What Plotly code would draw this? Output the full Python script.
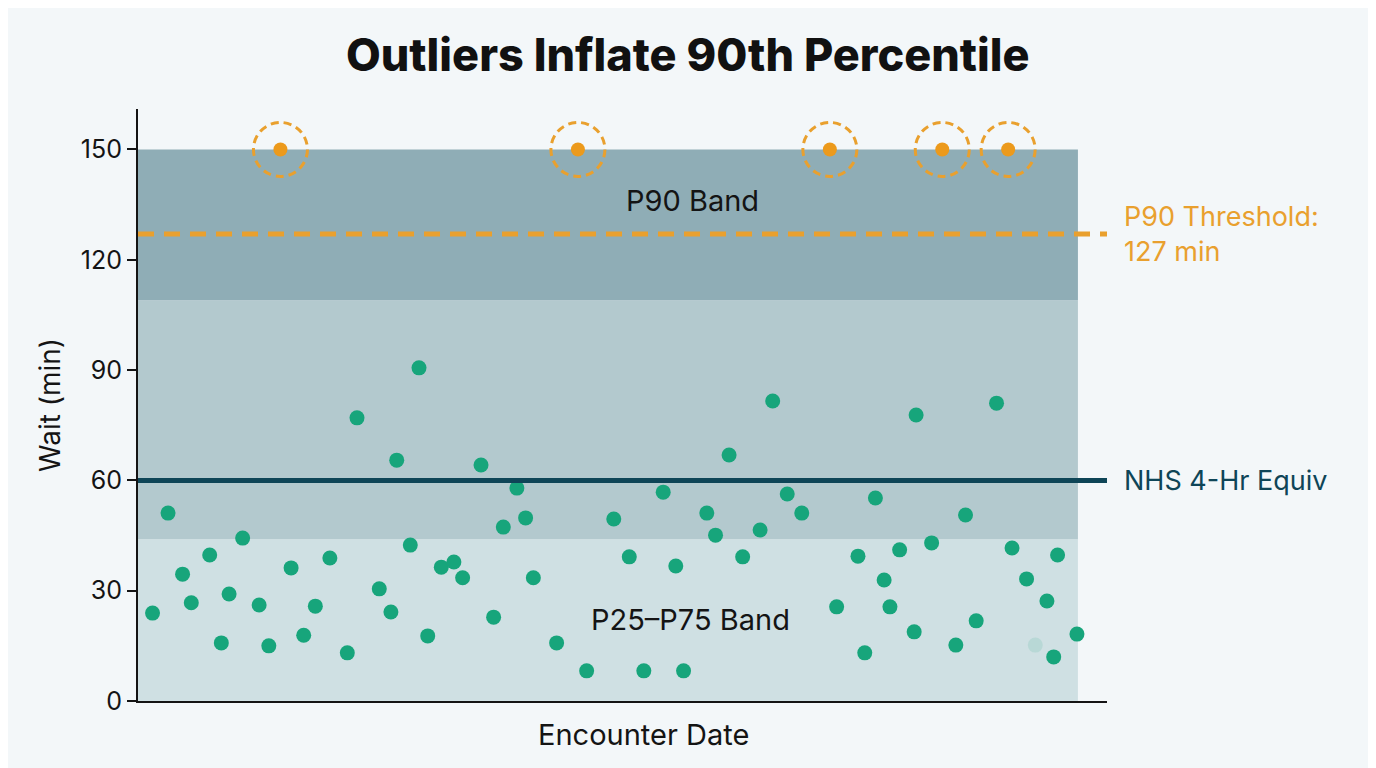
import plotly.graph_objects as go

# ---- data ----
day = [1.5, 3.1, 4.6, 5.5, 7.4, 8.6, 9.4, 10.8, 12.5, 13.5, 15.8, 17.1, 18.3, 19.8, 21.6,
       22.6, 24.9, 26.1, 26.7, 28.1, 29.0, 29.9, 31.3, 32.6, 33.5, 35.4, 36.7, 37.7, 39.1,
       40.0, 40.8, 43.2, 46.3, 49.1, 50.7, 52.2, 54.2, 55.5, 56.3, 58.7, 59.6, 61.0, 62.4,
       64.2, 65.5, 67.0, 68.5, 72.1, 74.3, 75.0, 76.1, 77.0, 77.6, 78.6, 80.1, 80.3, 81.9,
       84.4, 85.4, 86.5, 88.6, 90.2, 91.7, 93.8, 94.5, 94.9, 96.9]
wait = [23.9, 51.1, 34.5, 26.7, 39.7, 15.8, 29.1, 44.3, 26.1, 15.0, 36.2, 17.9, 25.8, 38.9, 13.1,
        77.0, 30.5, 24.2, 65.5, 42.4, 90.6, 17.7, 36.4, 37.8, 33.5, 64.2, 22.8, 47.3, 57.9,
        49.8, 33.5, 15.8, 8.2, 49.5, 39.2, 8.2, 56.8, 36.7, 8.2, 51.1, 45.1, 66.9, 39.2,
        46.5, 81.6, 56.3, 51.1, 25.6, 39.4, 13.1, 55.2, 32.9, 25.6, 41.1, 18.8, 77.8, 43.0,
        15.2, 50.6, 21.8, 81.0, 41.6, 33.2, 27.2, 12.0, 39.7, 18.2]
faint_day = [92.6]
faint_wait = [15.2]

outlier_day = [14.7, 45.4, 71.4, 83.0, 89.8]
outlier_wait = [150, 150, 150, 150, 150]

band_start, band_end = 0, 97.0
p25_p75_band = [0, 44]
mid_band = [44, 109]
p90_band = [109, 150]
p90_threshold = 127
nhs_target = 60

y_ticks = [0, 30, 60, 90, 120, 150]

# ---- style ----
BG = "#f3f7f9"
GREEN = "#17a57b"
ORANGE = "#e9a02e"
DOT_ORANGE = "#ec9a1c"
TEAL = "#0e4557"
INK = "#141414"
FONT = "Inter"

fig = go.Figure()

band_colors = ["#cfe0e3", "#b3c9ce", "#8fadb6"]
for (lo, hi), col in zip([p25_p75_band, mid_band, p90_band], band_colors):
    fig.add_shape(type="rect", xref="x", yref="y", x0=band_start, x1=band_end, y0=lo, y1=hi,
                  fillcolor=col, line_width=0, layer="below")

# reference lines
fig.add_shape(type="line", xref="paper", yref="y", x0=0, x1=1, y0=p90_threshold, y1=p90_threshold,
              line=dict(color=ORANGE, width=5, dash="16px,10px"))
fig.add_shape(type="line", xref="paper", yref="y", x0=0, x1=1, y0=nhs_target, y1=nhs_target,
              line=dict(color=TEAL, width=5))

fig.add_trace(go.Scatter(x=day, y=wait, mode="markers",
                         marker=dict(size=15, color=GREEN), hoverinfo="skip", showlegend=False))
fig.add_trace(go.Scatter(x=faint_day, y=faint_wait, mode="markers",
                         marker=dict(size=15, color=GREEN, opacity=0.12), hoverinfo="skip",
                         showlegend=False))
fig.add_trace(go.Scatter(x=outlier_day, y=outlier_wait, mode="markers",
                         marker=dict(size=14, color=DOT_ORANGE), hoverinfo="skip",
                         showlegend=False, cliponaxis=False))

for xd, yd in zip(outlier_day, outlier_wait):
    fig.add_shape(type="circle", xref="x", yref="y", xsizemode="pixel", ysizemode="pixel",
                  xanchor=xd, yanchor=yd, x0=-27, x1=27, y0=-27, y1=27,
                  line=dict(color=ORANGE, width=3, dash="8px,5px"), fillcolor="rgba(0,0,0,0)")

# labels
fig.add_annotation(x=57.2, y=136, xref="x", yref="y", text="P90 Band", showarrow=False,
                   font=dict(family=FONT, size=29, color=INK))
fig.add_annotation(x=57.0, y=22.3, xref="x", yref="y", text="P25\u2013P75 Band", showarrow=False,
                   font=dict(family=FONT, size=29, color=INK))
fig.add_annotation(x=1.0155, y=nhs_target, xref="paper", yref="y", text="NHS 4-Hr Equiv",
                   showarrow=False, xanchor="left", yanchor="middle",
                   font=dict(family=FONT, size=27, color=TEAL))
fig.add_annotation(x=1.0155, y=p90_threshold, xref="paper", yref="y",
                   text="P90 Threshold:<br>127 min", align="left",
                   showarrow=False, xanchor="left", yanchor="middle",
                   font=dict(family=FONT, size=27, color=ORANGE))
fig.add_annotation(x=0.522, y=-0.057, xref="paper", yref="paper", text="Encounter Date",
                   showarrow=False, xanchor="center", yanchor="middle",
                   font=dict(family=FONT, size=29, color=INK))

fig.update_layout(
    width=1376, height=768,
    paper_bgcolor=BG, plot_bgcolor=BG,
    margin=dict(l=130, r=277, t=101, b=75),
    title=dict(text="Outliers Inflate 90th Percentile", x=0.494, xanchor="center", xref="container",
               y=0.939, yref="container", yanchor="middle",
               font=dict(family=FONT, size=45, color="#111", weight=800)),
    xaxis=dict(range=[0, 100], showgrid=False, zeroline=False, showticklabels=False, ticks="",
               showline=True, linecolor=INK, linewidth=2),
    yaxis=dict(range=[0, 161], showgrid=False, zeroline=False, tickvals=y_ticks,
               ticks="outside", ticklen=9, tickwidth=2, tickcolor=INK,
               showline=True, linecolor=INK, linewidth=2,
               tickfont=dict(family=FONT, size=25, color=INK),
               title=dict(text="Wait (min)", font=dict(family=FONT, size=28, color=INK),
                          standoff=12)),
)

fig.write_html("out.html")
